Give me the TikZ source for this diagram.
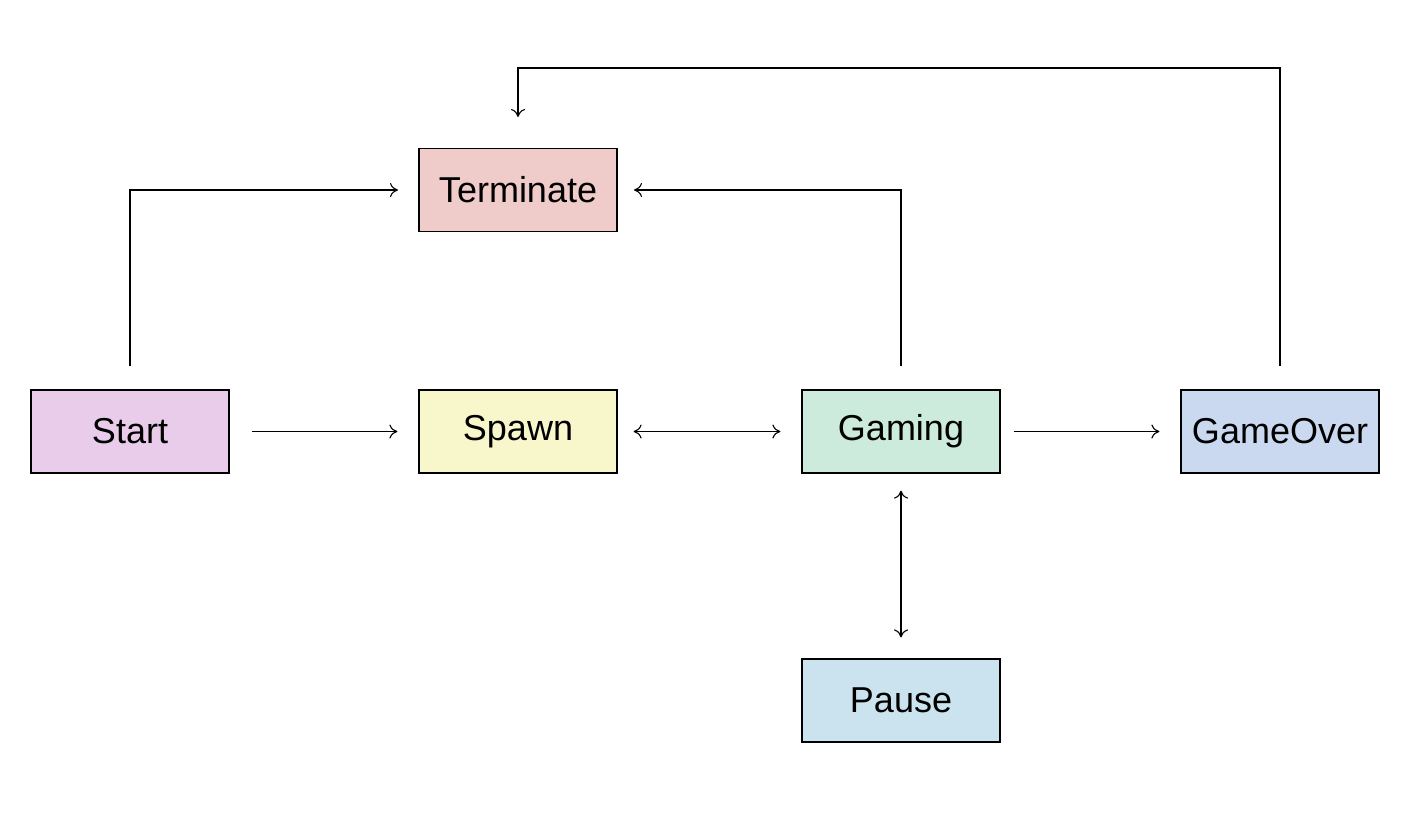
\documentclass[tikz,border=0pt]{standalone}
\usepackage{fontspec}
\setmainfont{Liberation Sans}
\usetikzlibrary{arrows.meta}
\definecolor{cStart}{HTML}{E8CCEA}
\definecolor{cTerm}{HTML}{EFCBCA}
\definecolor{cSpawn}{HTML}{F8F7CB}
\definecolor{cGame}{HTML}{CCEBDC}
\definecolor{cOver}{HTML}{CAD9EF}
\definecolor{cPause}{HTML}{CAE3EE}
\begin{document}
\begin{tikzpicture}[x=1pt,y=-1pt,
  box/.style={draw=black,line width=1.2pt,minimum width=198pt,minimum height=83pt,inner sep=0pt,font=\fontsize{36}{40}\selectfont},
  conn/.style={line width=1.1pt,-{To[length=8pt,width=14pt]}},
  bconn/.style={line width=1.1pt,{To[length=8pt,width=14pt]}-{To[length=8pt,width=14pt]}}]
\useasboundingbox (0,0) rectangle (1410,812);
\node[box,fill=cStart] (start) at (130,431.5) {Start};
\node[box,fill=cSpawn] (spawn) at (518,431.5) {Spawn};
\node[box,fill=cGame] (gaming) at (901,431.5) {Gaming};
\node[box,fill=cOver] (over) at (1280,431.5) {GameOver};
\node[box,fill=cTerm] (term) at (518,190) {Terminate};
\node[box,fill=cPause] (pause) at (901,700.5) {Pause};
\coordinate (sA) at (130,366);
\coordinate (sB) at (398,190);
\coordinate (gA) at (901,366);
\coordinate (gB) at (634,190);
\coordinate (oA) at (1280,366);
\coordinate (oB) at (518,117);
\draw[conn] ([xshift=22pt]start.east) -- ([xshift=-21pt]spawn.west);
\draw[bconn] ([xshift=16pt]spawn.east) -- ([xshift=-21pt]gaming.west);
\draw[conn] ([xshift=13pt]gaming.east) -- ([xshift=-21pt]over.west);
\draw[bconn] ([yshift=-17pt]gaming.south) -- ([yshift=21pt]pause.north);
\draw[conn] (sA) |- (sB);
\draw[conn] (gA) |- (gB);
\draw[conn] (oA) -- (1280,68) -| (oB);
\end{tikzpicture}
\end{document}
